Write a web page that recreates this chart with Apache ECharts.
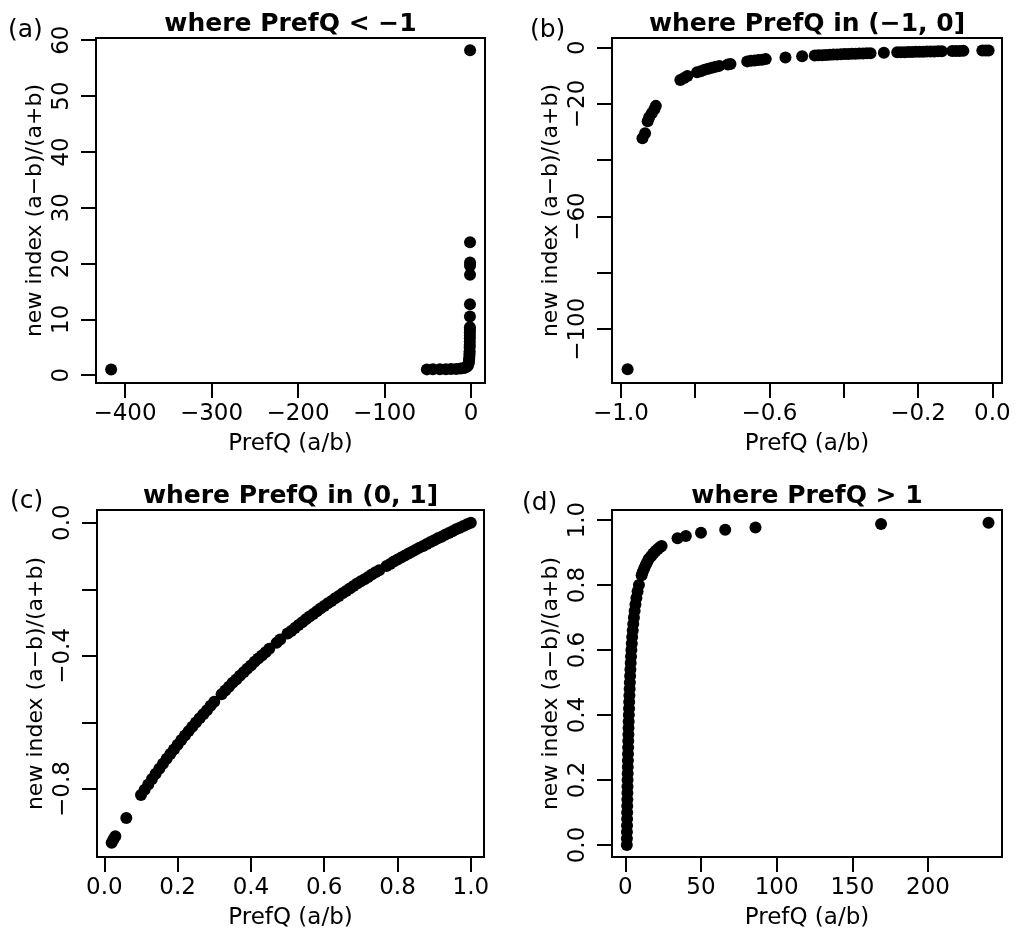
<!DOCTYPE html>
<html>
<head>
<meta charset="utf-8">
<script src="https://cdn.jsdelivr.net/npm/echarts@6/dist/echarts.min.js"></script>
<style>
html,body{margin:0;padding:0;background:#fff;}
#chart{width:1018px;height:939px;}
</style>
</head>
<body>
<div id="chart"></div>
<script>
// ---------------- data ----------------
// (a) PrefQ < -1
const aX = [-416, -51, -44, -36, -29, -23, -17, -12, -8, -6, -4.5, -3.5, -3, -2.5, -2.2, -2.0, -1.8, -1.7, -1.6, -1.5, -1.45, -1.4, -1.36, -1.33, -1.3, -1.27, -1.25, -1.21, -1.17, -1.117, -1.105, -1.1, -1.088, -1.035];
const aY = [1.0, 1.04, 1.05, 1.06, 1.07, 1.09, 1.12, 1.18, 1.29, 1.4, 1.57, 1.8, 2.0, 2.3, 2.7, 3.0, 3.5, 3.9, 4.3, 5.0, 5.4, 6.0, 6.6, 7.1, 7.7, 8.2, 8.6, 10.5, 12.7, 18.0, 19.6, 20.2, 23.8, 58.2];
// (b) PrefQ in (-1, 0]
const bX = [-0.982, -0.942, -0.935, -0.928, -0.924, -0.917, -0.910, -0.906, -0.840, -0.830, -0.821, -0.795, -0.785, -0.775, -0.765, -0.755, -0.745, -0.735, -0.712, -0.705, -0.660, -0.650, -0.640, -0.630, -0.620, -0.610, -0.557, -0.512, -0.478, -0.468, -0.458, -0.448, -0.438, -0.428, -0.418, -0.408, -0.398, -0.388, -0.378, -0.368, -0.358, -0.348, -0.338, -0.328, -0.292, -0.256, -0.246, -0.236, -0.226, -0.216, -0.206, -0.196, -0.186, -0.176, -0.166, -0.156, -0.146, -0.136, -0.108, -0.098, -0.088, -0.078, -0.027, -0.018, -0.010];
const bY = [-114.2, -32.2, -30.4, -26.2, -24.7, -23.3, -21.9, -20.7, -11.5, -10.8, -10.1, -8.8, -8.4, -7.9, -7.5, -7.2, -6.8, -6.5, -6.0, -5.8, -4.9, -4.7, -4.6, -4.4, -4.3, -4.1, -3.5, -3.1, -2.8, -2.76, -2.7, -2.62, -2.56, -2.5, -2.44, -2.38, -2.32, -2.27, -2.21, -2.16, -2.12, -2.07, -2.02, -1.98, -1.82, -1.69, -1.65, -1.62, -1.58, -1.55, -1.52, -1.49, -1.46, -1.43, -1.40, -1.37, -1.34, -1.31, -1.24, -1.22, -1.19, -1.17, -1.06, -1.04, -1.02];
// (c) PrefQ in (0, 1]
const cX = [0.02, 0.025, 0.03, 0.06, 0.10, 0.11, 0.12, 0.13, 0.14, 0.15, 0.16, 0.17, 0.18, 0.19, 0.20, 0.21, 0.22, 0.23, 0.24, 0.25, 0.26, 0.27, 0.28, 0.29, 0.30, 0.32, 0.33, 0.34, 0.35, 0.36, 0.37, 0.38, 0.39, 0.40, 0.41, 0.42, 0.43, 0.44, 0.45, 0.47, 0.48, 0.50, 0.51, 0.52, 0.53, 0.54, 0.55, 0.56, 0.57, 0.58, 0.59, 0.60, 0.61, 0.62, 0.63, 0.64, 0.65, 0.66, 0.67, 0.68, 0.69, 0.70, 0.71, 0.72, 0.73, 0.74, 0.75, 0.77, 0.78, 0.79, 0.80, 0.81, 0.82, 0.83, 0.84, 0.85, 0.86, 0.87, 0.88, 0.89, 0.90, 0.91, 0.92, 0.93, 0.94, 0.95, 0.96, 0.97, 0.98, 0.99, 1.00];
const cY = [-0.961, -0.951, -0.942, -0.887, -0.818, -0.802, -0.786, -0.770, -0.754, -0.739, -0.724, -0.709, -0.695, -0.681, -0.667, -0.653, -0.639, -0.626, -0.613, -0.600, -0.587, -0.575, -0.563, -0.550, -0.538, -0.515, -0.504, -0.493, -0.481, -0.471, -0.460, -0.449, -0.439, -0.429, -0.418, -0.408, -0.399, -0.389, -0.379, -0.361, -0.351, -0.333, -0.325, -0.316, -0.307, -0.299, -0.290, -0.282, -0.274, -0.266, -0.258, -0.250, -0.242, -0.235, -0.227, -0.220, -0.212, -0.205, -0.198, -0.190, -0.183, -0.176, -0.170, -0.163, -0.156, -0.149, -0.143, -0.130, -0.124, -0.117, -0.111, -0.105, -0.099, -0.093, -0.087, -0.081, -0.075, -0.070, -0.064, -0.058, -0.053, -0.047, -0.042, -0.036, -0.031, -0.026, -0.020, -0.015, -0.010, -0.005, 0.000];
// (d) PrefQ > 1
const dX = [1.000, 1.041, 1.083, 1.128, 1.174, 1.222, 1.273, 1.326, 1.381, 1.439, 1.5, 1.564, 1.632, 1.703, 1.778, 1.857, 1.941, 2.03, 2.125, 2.226, 2.333, 2.448, 2.571, 2.704, 2.846, 3.0, 3.167, 3.348, 3.545, 3.762, 4.0, 4.263, 4.556, 4.882, 5.25, 5.667, 6.143, 6.692, 7.333, 8.091, 9.0, 10.8, 11.5, 12.5, 13.5, 14.5, 15.5, 17, 18.5, 20, 21.5, 23, 24, 34.5, 40, 50, 66, 86, 169, 240];
const dY = [0.00, 0.02, 0.04, 0.06, 0.08, 0.10, 0.12, 0.14, 0.16, 0.18, 0.20, 0.22, 0.24, 0.26, 0.28, 0.30, 0.32, 0.34, 0.36, 0.38, 0.40, 0.42, 0.44, 0.46, 0.48, 0.50, 0.52, 0.54, 0.56, 0.58, 0.60, 0.62, 0.64, 0.66, 0.68, 0.70, 0.72, 0.74, 0.76, 0.78, 0.80, 0.83, 0.84, 0.852, 0.862, 0.871, 0.88, 0.889, 0.897, 0.905, 0.911, 0.917, 0.92, 0.944, 0.951, 0.961, 0.970, 0.977, 0.988, 0.992];

// tick positions and labelled ticks
const aXTicks = [-400, -300, -200, -100, 0];
const aXLabels = [-400, -300, -200, -100, 0];
const aYTicks = [0, 10, 20, 30, 40, 50, 60];
const aYLabels = [0, 10, 20, 30, 40, 50, 60];
const bXTicks = [-1.0, -0.8, -0.6, -0.4, -0.2, 0.0];
const bXLabels = [-1.0, -0.6, -0.2, 0.0];
const bYTicks = [-100, -80, -60, -40, -20, 0];
const bYLabels = [-100, -60, -20, 0];
const cXTicks = [0.0, 0.2, 0.4, 0.6, 0.8, 1.0];
const cXLabels = [0.0, 0.2, 0.4, 0.6, 0.8, 1.0];
const cYTicks = [-0.8, -0.6, -0.4, -0.2, 0.0];
const cYLabels = [-0.8, -0.4, 0.0];
const dXTicks = [0, 50, 100, 150, 200];
const dXLabels = [0, 50, 100, 150, 200];
const dYTicks = [0.0, 0.2, 0.4, 0.6, 0.8, 1.0];
const dYLabels = [0.0, 0.2, 0.4, 0.6, 0.8, 1.0];

const titles = ['where PrefQ < \u22121', 'where PrefQ in (\u22121, 0]', 'where PrefQ in (0, 1]', 'where PrefQ > 1'];
const tags = ['(a)', '(b)', '(c)', '(d)'];
const xName = 'PrefQ (a/b)';
const yName = 'new index (a\u2212b)/(a+b)';

// ---------------- layout / style ----------------
const FONT = 'DejaVu Sans';
const panels = [
  {grid:{left:96, top:38, width:389, height:345}, xr:[-433.5, 16.2], yr:[-1.4, 60.4], xd:0, yd:0,
   xs:aX, ys:aY, xt:aXTicks, xl:aXLabels, yt:aYTicks, yl:aYLabels, tx:290.5, ty:12, gx:8, gy:18},
  {grid:{left:612, top:38, width:390, height:345}, xr:[-1.024, 0.026], yr:[-119.1, 3.4], xd:1, yd:0,
   xs:bX, ys:bY, xt:bXTicks, xl:bXLabels, yt:bYTicks, yl:bYLabels, tx:807, ty:12, gx:530, gy:18},
  {grid:{left:97, top:510, width:387, height:347}, xr:[-0.02, 1.036], yr:[-1.004, 0.038], xd:1, yd:1,
   xs:cX, ys:cY, xt:cXTicks, xl:cXLabels, yt:cYTicks, yl:cYLabels, tx:290.5, ty:484, gx:10, gy:489},
  {grid:{left:612, top:510, width:390, height:347}, xr:[-8.8, 248.9], yr:[-0.037, 1.031], xd:0, yd:1,
   xs:dX, ys:dY, xt:dXTicks, xl:dXLabels, yt:dYTicks, yl:dYLabels, tx:807, ty:484, gx:522, gy:491}
];

function fmt(dec){
  return function(v){
    let s = (Math.abs(v) < 1e-9 ? 0 : v).toFixed(dec);
    return s.replace('-', '\u2212');
  };
}

const grids = [], xAxes = [], yAxes = [], series = [], graphics = [];
panels.forEach((p, i) => {
  grids.push(Object.assign({show:true, borderColor:'#000', borderWidth:2, backgroundColor:'#fff', containLabel:false}, p.grid));
  xAxes.push({
    gridIndex:i, type:'value', min:p.xr[0], max:p.xr[1], position:'bottom',
    axisLine:{show:false, onZero:false}, splitLine:{show:false},
    axisTick:{show:true, inside:false, length:15, lineStyle:{color:'#000', width:2}, customValues:p.xt},
    axisLabel:{customValues:p.xl, formatter:fmt(p.xd), color:'#000', fontFamily:FONT, fontSize:23, margin:20},
    name:xName, nameLocation:'middle', nameGap:50,
    nameTextStyle:{color:'#000', fontFamily:FONT, fontSize:23}
  });
  yAxes.push({
    gridIndex:i, type:'value', min:p.yr[0], max:p.yr[1], position:'left',
    axisLine:{show:false, onZero:false}, splitLine:{show:false},
    axisTick:{show:true, inside:false, length:15, lineStyle:{color:'#000', width:2}, customValues:p.yt},
    axisLabel:{customValues:p.yl, formatter:fmt(p.yd), color:'#000', fontFamily:FONT, fontSize:23, margin:22, rotate:90},
    name:yName, nameLocation:'middle', nameGap:50, nameRotate:90,
    nameTextStyle:{color:'#000', fontFamily:FONT, fontSize:22}
  });
  series.push({
    type:'scatter', xAxisIndex:i, yAxisIndex:i, symbol:'circle', symbolSize:12,
    itemStyle:{color:'#000', opacity:1}, animation:false, silent:true,
    data:p.xs.map((x, k) => [x, p.ys[k]])
  });
  graphics.push({type:'text', x:p.tx, y:p.ty, style:{text:titles[i], font:'bold 25px "' + FONT + '"', fill:'#000', textAlign:'center', align:'center', textVerticalAlign:'top', verticalAlign:'top'}});
  graphics.push({type:'text', x:p.gx, y:p.gy, style:{text:tags[i], font:'25px "' + FONT + '"', fill:'#000', textAlign:'left', align:'left', textVerticalAlign:'top', verticalAlign:'top'}});
});

const chart = echarts.init(document.getElementById('chart'), null, {renderer:'canvas'});
chart.setOption({
  backgroundColor:'#fff',
  animation:false,
  grid:grids, xAxis:xAxes, yAxis:yAxes, series:series,
  graphic:graphics
});
</script>
</body>
</html>
